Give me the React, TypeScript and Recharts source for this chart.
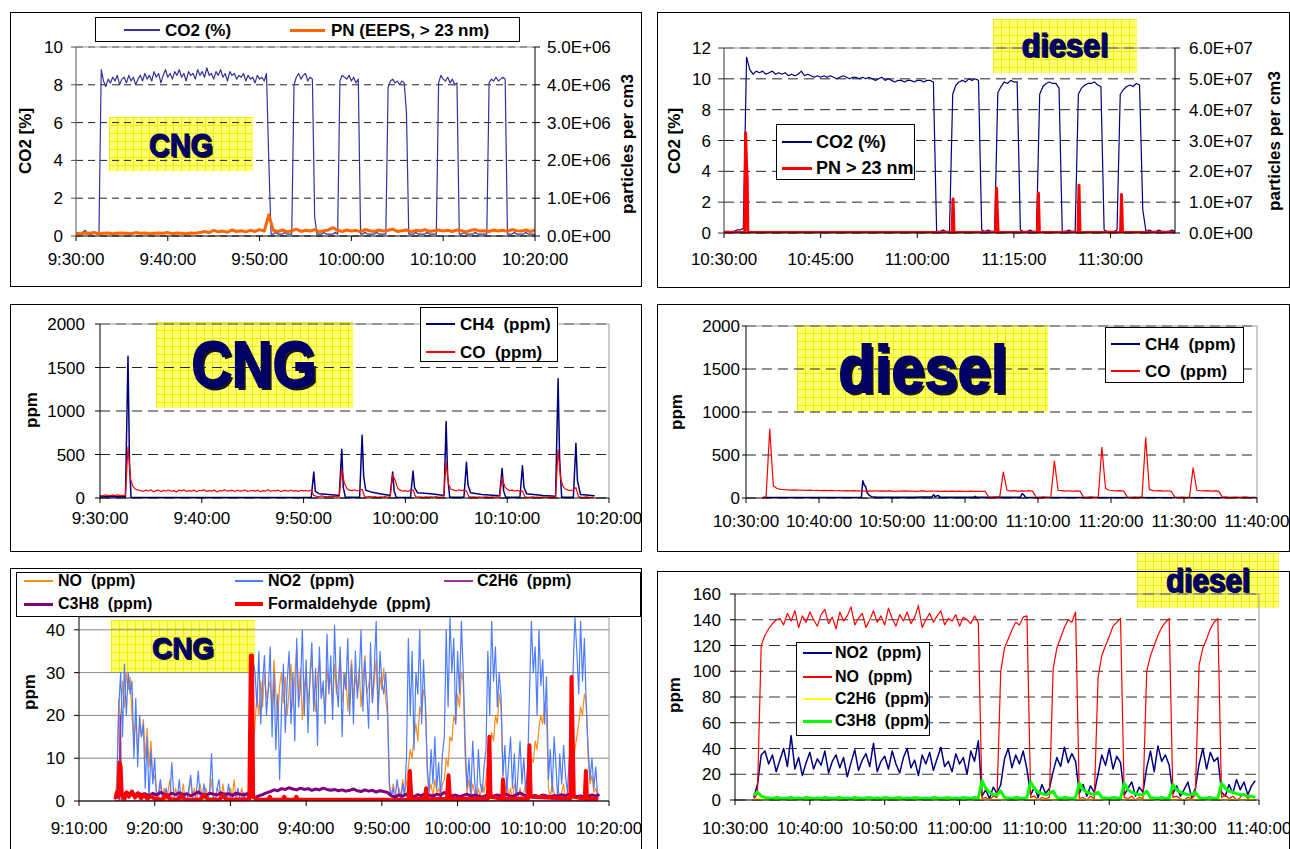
import React from "react";
import { LineChart, Line, XAxis, YAxis, CartesianGrid, ReferenceLine } from "recharts";

type Run = [number, number[]];
type Pt = { t: number; v: number };

const FONT = '"Liberation Sans", Arial, Helvetica, sans-serif';

// ---- axis ticks and labels (x in minutes from the first tick) ----
const cngMinutes = [0, 10, 20, 30, 40, 50];
const cngTimes = ["9:30:00", "9:40:00", "9:50:00", "10:00:00", "10:10:00", "10:20:00"];
const dieselMinutes15 = [0, 15, 30, 45, 60];
const dieselTimes15 = ["10:30:00", "10:45:00", "11:00:00", "11:15:00", "11:30:00"];
const dieselMinutes10 = [0, 10, 20, 30, 40, 50, 60, 70];
const dieselTimes10 = ["10:30:00", "10:40:00", "10:50:00", "11:00:00", "11:10:00", "11:20:00", "11:30:00", "11:40:00"];
const noxCngMinutes = [0, 10, 20, 30, 40, 50, 60, 70];
const noxCngTimes = ["9:10:00", "9:20:00", "9:30:00", "9:40:00", "9:50:00", "10:00:00", "10:10:00", "10:20:00"];

const co2CngTicks = [0, 2, 4, 6, 8, 10];
const pnCngTicks = [0, 1e6, 2e6, 3e6, 4e6, 5e6];
const pnCngTickLabels = ["0.0E+00", "1.0E+06", "2.0E+06", "3.0E+06", "4.0E+06", "5.0E+06"];
const co2DieselTicks = [0, 2, 4, 6, 8, 10, 12];
const pnDieselTicks = [0, 1e7, 2e7, 3e7, 4e7, 5e7, 6e7];
const pnDieselTickLabels = ["0.0E+00", "1.0E+07", "2.0E+07", "3.0E+07", "4.0E+07", "5.0E+07", "6.0E+07"];
const ppmTicks = [0, 500, 1000, 1500, 2000];
const noxCngTicks = [0, 10, 20, 30, 40];
const noxDieselTicks = [0, 20, 40, 60, 80, 100, 120, 140, 160];

// ---- CNG: CO2 (%) every 15 s, PN every 30 s ----
const co2CngRuns: Run[] = [
  [0, [0.1, 0.1, 0.1, 0.2, 0.3, 0.1, 0.1, 0.1, 0.2, 0.1, 0.1]],
  [2.75, [
    8.8, 8.2, 7.9, 8.3, 8.1, 8.4, 8.2, 8.5, 8.0, 8.3,
    8.4, 8.1, 8.5, 8.2, 8.4, 8.0, 8.3, 8.5, 8.2, 8.6,
    8.3, 8.5, 8.2, 8.7, 8.4, 8.6, 8.1, 8.5, 8.8, 8.4,
    8.6, 8.3, 8.7, 8.5, 8.8, 8.4, 8.6, 8.2, 8.7, 8.5,
    8.6, 8.3, 8.8, 8.5, 8.7, 8.4, 8.9, 8.5, 8.6, 8.3,
    8.7, 8.5, 8.8, 8.4, 8.6, 8.2, 8.7, 8.5, 8.6, 8.3,
    8.5, 8.4, 8.6, 8.2, 8.5, 8.3, 8.4, 8.1, 8.5, 8.3,
    8.4, 8.2, 8.6, 4.0]],
  [21.25, [0.1, 0.1, 0.2, 0.1, 0.1, 0.1, 0.2, 0.1, 0.1, 0.1]],
  [23.75, [8.0, 8.4, 8.6, 8.3, 8.5, 8.6, 8.2, 8.4, 8.3]],
  [26.0, [1.0, 0.1, 0.1, 0.1, 0.2, 0.1, 0.1, 0.1, 0.1, 0.2, 0.1]],
  [28.75, [8.2, 8.5, 8.4, 8.3, 8.5, 8.2, 8.4, 8.1, 8.3]],
  [31.0, [0.1, 0.1, 0.2, 0.1, 0.1, 0.1, 0.1, 0.2, 0.1, 0.1, 0.1, 0.1]],
  [34.0, [7.9, 8.2, 8.3, 8.1, 8.2, 8.0, 8.2, 8.1, 6.5]],
  [36.25, [0.1, 0.1, 0.1, 0.2, 0.1, 0.1, 0.1, 0.1, 0.2, 0.1, 0.1, 0.1, 0.1]],
  [39.5, [8.1, 8.5, 8.3, 8.2, 8.4, 8.1, 8.3, 8.0, 8.1]],
  [41.75, [0.1, 0.1, 0.2, 0.1, 0.1, 0.1, 0.1, 0.2, 0.1, 0.1, 0.1, 0.1, 0.1]],
  [45.0, [8.1, 8.3, 8.2, 8.4, 8.2, 8.3, 8.4, 8.3]],
  [47.0, [0.1, 0.1, 0.1, 0.2, 0.1, 0.1, 0.1, 0.1, 0.2, 0.1, 0.1, 0.1, 0.1]],
];
const pnCngRuns: Run[] = [
  [0, [7e4, 6e4, 8e4, 7e4, 9e4, 6e4, 7e4, 8e4, 6e4, 7e4, 8e4, 7e4, 6e4, 9e4, 7e4, 8e4, 6e4, 7e4, 8e4, 7e4, 9e4, 6e4, 8e4, 7e4, 6e4, 8e4, 7e4, 9e4]],
  [14, [1.2e5, 9e4, 1.5e5, 1.1e5, 1.3e5, 1e5, 1.6e5, 1.2e5, 1.4e5, 1.1e5, 1.5e5, 1.2e5, 1.7e5, 1.3e5]],
  [21, [5.6e5]],
  [21.5, [
    1.5e5, 1.2e5, 1.6e5, 1.1e5, 1.4e5, 1.8e5, 1.2e5, 1.5e5, 1.3e5, 1.7e5,
    1.1e5, 1.4e5, 1.6e5, 2.2e5, 1.5e5, 1.2e5, 1.6e5, 1.3e5, 1.5e5, 1.1e5,
    1.7e5, 1.4e5, 1.2e5, 1.6e5, 1.3e5, 1.5e5, 1.8e5, 1.2e5, 1.4e5, 1.6e5,
    1.1e5, 1.5e5, 1.3e5, 1.7e5, 1.2e5, 1.4e5, 1.6e5, 1.3e5, 1.5e5, 1.2e5,
    1.6e5, 1.4e5, 1.1e5, 1.5e5, 1.7e5, 1.3e5, 1.4e5, 1.2e5, 1.6e5, 1.3e5,
    1.5e5, 1.2e5, 1.7e5, 1.4e5, 1.3e5, 1.6e5, 1.2e5, 1.5e5]],
];

// ---- diesel: CO2 (%) every 30 s, PN as [minute, value] ----
const co2DieselRuns: Run[] = [
  [0, [0.1, 0.1, 0.1, 0.1, 0.2, 0.2, 0.3]],
  [3.5, [
    11.4, 10.6, 10.3, 10.5, 10.4, 10.5, 10.3, 10.4, 10.5, 10.3,
    10.4, 10.3, 10.4, 10.2, 10.3, 10.2, 10.3, 10.5, 10.2, 10.3,
    10.2, 10.1, 10.2, 10.1, 10.2, 10.1, 10.2, 10.1, 10.0, 10.1,
    10.2, 10.1, 10.0, 10.1, 10.1, 10.0, 10.1, 10.0, 10.1, 10.0,
    9.9, 10.0, 10.1, 9.9, 10.0, 9.9, 9.8, 9.9, 9.9, 9.8,
    9.9, 9.9, 9.8, 9.9, 9.9, 9.8, 9.9, 9.9, 9.8]],
  [33.0, [0.1, 0.1, 0.2, 0.1, 0.1]],
  [35.5, [9.0, 9.6, 9.8, 9.9, 9.8, 10.0, 9.9, 10.0, 9.9]],
  [40.0, [0.2, 0.1, 0.2, 0.1, 0.1]],
  [42.5, [9.1, 9.5, 9.8, 9.7, 9.9, 9.8, 9.8]],
  [46.0, [0.2, 0.1, 0.1, 0.2, 0.1, 0.1]],
  [49.0, [9.0, 9.5, 9.7, 9.8, 9.7, 9.7, 9.4]],
  [52.5, [0.1, 0.1, 0.2, 0.1, 0.1]],
  [55.0, [9.0, 9.4, 9.6, 9.7, 9.7, 9.8, 9.6, 9.5]],
  [59.0, [0.2, 0.1, 0.1, 0.1, 0.2]],
  [61.5, [9.0, 9.3, 9.5, 9.6, 9.5, 9.7, 9.6]],
  [65.0, [1.5, 0.1, 0.2, 0.1, 0.1, 0.2, 0.1, 0.1, 0.1, 0.2, 0.1]],
];
const pnDieselPts = [
  [0, 2e5], [3.2, 2e5], [3.35, 3.25e7], [3.5, 2.2e7], [3.6, 1.8e7], [3.7, 5e5], [3.85, 2e5],
  [35.4, 2e5], [35.55, 1.1e7], [35.7, 2e5], [42.15, 2e5], [42.3, 1.45e7], [42.4, 8e6], [42.55, 2e5],
  [48.65, 2e5], [48.8, 1.3e7], [48.95, 2e5], [54.95, 2e5], [55.1, 1.55e7], [55.25, 2e5],
  [61.55, 2e5], [61.7, 1.25e7], [61.85, 2e5], [70, 2e5],
];

// ---- CNG: CH4 and CO (ppm) ----
const ch4CngPts = [
  [0, 15], [2.5, 15], [2.75, 1630], [2.9, 400], [3.05, 10], [20.75, 5], [21.0, 300], [21.15, 80],
  [21.5, 50], [22.5, 40], [23.5, 30], [23.75, 560], [23.9, 120], [24.1, 10], [25.5, 10], [25.75, 720],
  [25.9, 250], [26.1, 90], [26.6, 70], [27.5, 50], [28.5, 30], [28.75, 300], [28.9, 80], [29.1, 5],
  [30.5, 5], [30.75, 310], [30.9, 120], [31.2, 60], [32.5, 50], [33.8, 30], [34.0, 880], [34.15, 250],
  [34.35, 10], [35.75, 10], [36.0, 410], [36.15, 150], [36.4, 60], [37.5, 40], [39.25, 25], [39.5, 340],
  [39.65, 80], [39.85, 10], [41.25, 10], [41.5, 370], [41.65, 120], [41.9, 50], [43.5, 30], [44.75, 20],
  [45.0, 1370], [45.15, 450], [45.35, 10], [46.5, 10], [46.75, 630], [46.9, 200], [47.2, 40], [48.6, 25],
];
const coCngRuns: Run[] = [
  [0, [30, 25, 35, 30, 28, 32, 30, 35, 28, 30, 32]],
  [2.75, [
    590, 220, 130, 100, 90,
    85, 75, 90, 80, 95, 70, 85, 90, 75, 88,
    80, 92, 78, 85, 70, 90, 82, 95, 75, 85,
    80, 90, 72, 88, 84, 93, 76, 85, 80, 90,
    70, 86, 82, 95, 78, 84, 88, 74, 90, 80,
    85, 92, 75, 83, 88, 79, 90, 72, 85, 80,
    94, 77, 86, 82, 90, 74, 85, 88, 78, 92,
    80, 84, 76, 89, 82, 86, 78, 90]],
  [21.0, [30, 20, 15, 25, 18, 12, 20, 15, 22, 14, 18]],
  [23.75, [330, 170, 110, 90, 85, 95, 80, 90, 100]],
  [26.0, [15, 12, 18, 10, 15, 8, 14, 10, 16, 9, 12]],
  [28.75, [270, 200, 110, 90, 80, 85, 75, 90, 95]],
  [31.0, [15, 10, 14, 8, 12, 9, 13, 10, 15, 8, 11, 12]],
  [34.0, [410, 150, 100, 90, 80, 95, 85, 90, 80]],
  [36.25, [15, 10, 12, 8, 14, 9, 11, 13, 8, 12, 10, 14, 9]],
  [39.5, [240, 130, 100, 85, 90, 80, 88, 75, 80]],
  [41.75, [12, 8, 10, 14, 9, 11, 7, 12, 10, 8, 13, 9, 11]],
  [45.0, [550, 220, 130, 100, 90, 85, 95, 120]],
  [47.0, [15, 10, 8, 12, 9, 7, 10]],
];

// ---- diesel: CH4 and CO (ppm) ----
const ch4DieselPts = [
  [2.5, 5], [15.8, 5], [16.0, 200], [16.2, 150], [16.4, 130], [16.6, 60], [16.9, 30], [17.2, 15],
  [18, 10], [23, 8], [25.5, 15], [25.7, 40], [25.9, 15], [26.3, 30], [26.6, 10], [31.2, 10],
  [31.4, 20], [31.6, 8], [37.6, 10], [37.8, 50], [38.0, 40], [38.3, 10], [42, 5], [70, 2],
];
const coDieselRuns: Run[] = [
  [2.25, [
    10, 10, 800, 140, 110,
    100, 97, 95, 92, 94, 90, 93, 88, 91, 87,
    90, 86, 89, 85, 88, 84, 87, 83, 86, 82,
    85, 83, 84, 80, 83, 81, 84, 79, 82, 80,
    83, 78, 81, 80, 82, 79, 81, 78, 80, 82,
    78, 80, 79, 81, 77, 80, 78, 79, 76, 80,
    78, 77, 79, 76, 78, 77, 78]],
  [33.25, [10, 8, 12, 10]],
  [35.25, [300, 90, 80, 85, 78, 82, 80, 85, 80]],
  [39.75, [10, 8, 12, 9, 10]],
  [42.25, [430, 90, 85, 80, 84, 78, 82, 80]],
  [46.25, [10, 9, 12, 8, 11]],
  [48.75, [590, 110, 90, 85, 82, 85, 80]],
  [52.25, [10, 8, 11, 9, 12]],
  [54.75, [700, 100, 85, 82, 86, 80, 84, 78]],
  [58.75, [10, 9, 11, 8, 10]],
  [61.25, [350, 90, 85, 82, 86, 80, 83, 80]],
  [65.25, [10, 12, 9, 11, 10, 8, 12, 10, 9, 10]],
];

// ---- CNG: NO, NO2, C2H6, C3H8, formaldehyde (ppm), from 9:10 ----
const no2CngRuns: Run[] = [
  [4.75, [0, 3]],
  [5.25, [22, 30, 15, 32, 20, 30, 25]],
  [7.0, [28, 10, 24, 8, 20, 15]],
  [8.5, [18, 3, 15, 0, 12, 4, 10]],
  [10.25, [
    0, 2, 5, 1, 0, 3, 1, 0, 9, 2, 0, 1, 5, 0, 2, 1, 0, 3, 6, 1,
    0, 2, 7, 1, 0, 4, 1, 0, 2, 11, 1, 0, 3, 5, 0, 1, 2, 0, 4, 1,
    0, 2, 1, 3, 0, 1, 2, 0, 1, 3]],
  [22.75, [5, 33]],
  [23.25, [
    30, 22, 35, 18, 28, 34, 20, 26,
    36, 15, 30, 12, 25, 5, 22, 32, 16, 28,
    35, 18, 30, 14, 38, 22, 27, 40, 20,
    33, 16, 29, 37, 21, 31, 13, 36, 24, 28, 18, 39,
    25, 34, 19, 41, 27, 22, 36, 15, 30, 26, 38, 20,
    32, 18, 35, 24, 29, 40, 21, 33, 26, 17,
    37, 23, 31, 42, 19, 35, 28, 25, 30, 22]],
  [41.0, [4, 1, 3, 0, 5, 2, 0, 4, 1]],
  [43.25, [10, 38, 20, 35, 12, 30, 25, 40, 18, 33, 22]],
  [46.0, [8, 2, 12, 4, 15, 3, 9, 1, 11]],
  [48.25, [15, 40, 22, 43, 30, 38, 18, 35, 25, 42, 30, 14]],
  [51.25, [3, 10, 1, 14, 5, 0, 12, 4, 2, 8]],
  [53.75, [12, 35, 20, 42, 28, 36, 22, 30, 24]],
  [56.0, [6, 13, 2, 9, 15, 3, 11, 0, 7, 14, 4, 10, 2, 8]],
  [59.5, [25, 42, 30, 36, 20, 40, 27, 33, 18, 29]],
  [62.0, [5, 12, 2, 15, 8, 0, 11, 4, 13, 6, 2, 10, 14]],
  [65.25, [30, 43, 35, 25, 42, 28, 38, 22]],
  [67.25, [12, 5, 10, 3, 8, 1]],
];
const noCngRuns: Run[] = [
  [4.75, [0, 5]],
  [5.25, [24, 18, 28, 22, 30, 26, 29]],
  [7.0, [20, 14, 19, 12, 18, 15]],
  [8.5, [19, 10, 17, 8, 14, 5, 6]],
  [10.25, [
    2, 0, 4, 1, 3, 0, 2, 5, 1, 0, 3, 1, 2, 0, 4, 1, 0, 2, 5, 1,
    3, 0, 2, 4, 1, 0, 3, 1, 2, 5, 0, 1, 3, 2, 0, 4, 1, 2, 0, 3,
    1, 5, 0, 2, 1, 3, 0, 2, 1, 4]],
  [22.75, [8, 12]],
  [23.25, [
    18, 25, 20, 28, 22, 30, 24, 26,
    28, 21, 33, 25, 19, 27, 30, 23, 29, 20,
    26, 32, 22, 29, 36, 24, 31, 19, 27,
    30, 23, 28, 34, 25, 21, 29, 33, 24, 27, 20, 31,
    26, 29, 22, 32, 25, 28, 35, 23, 27, 30, 21, 28,
    33, 24, 29, 26, 31, 22, 28, 34, 25, 27,
    30, 23, 28, 33, 21, 29, 26, 31, 24, 20]],
  [41.0, [3, 1, 4, 2, 0, 3, 1, 5, 2]],
  [43.25, [4, 8, 12, 10, 15, 18, 14, 22, 20, 26, 24]],
  [46.0, [6, 2, 4, 1, 5, 2, 3, 0, 4]],
  [48.25, [5, 10, 8, 15, 14, 20, 18, 25, 22, 30, 28, 10]],
  [51.25, [2, 5, 1, 4, 2, 0, 3, 1, 4, 2]],
  [53.75, [5, 9, 12, 16, 14, 20, 18, 25, 22]],
  [56.0, [4, 2, 5, 1, 3, 0, 4, 2, 1, 3, 0, 2, 4, 1]],
  [59.5, [6, 10, 9, 14, 12, 17, 20, 18, 23, 21]],
  [62.0, [3, 1, 4, 2, 0, 3, 1, 2, 4, 0, 2, 1, 3]],
  [65.25, [8, 12, 15, 18, 22, 20, 25, 23]],
  [67.25, [10, 4, 6, 2, 3, 1]],
];
const c2h6CngPts = [[4.8, 0], [5.3, 0], [5.45, 20], [5.6, 0], [68.6, 0]];
const c3h8CngRuns: Run[] = [
  [4.75, [
    1.5, 1.8, 1.2, 2.0, 1.6, 1.3, 1.9, 1.5, 1.7, 1.2, 1.8, 1.4, 2.0, 1.6, 1.3, 1.8, 1.5, 1.9,
    1.4, 1.7, 1.2, 1.6, 2.1, 1.5, 1.3, 1.8, 1.6, 1.4, 1.9, 1.5, 1.7, 1.3, 1.8, 1.6, 1.4, 1.7]],
  [22.75, [1.0, 0.8, 1.2, 1.5, 1.9]],
  [25.25, [2.2, 2.6, 2.4, 2.9, 2.7, 3.1, 2.8, 2.6, 3.0, 2.7, 2.9, 2.5, 2.8, 2.6, 3.0, 2.7]],
  [33.25, [2.5, 2.7, 2.4, 2.6, 2.3, 2.5, 2.8, 2.4, 2.2, 2.6, 2.3, 2.5, 2.1, 2.4, 2.2, 2.0]],
  [41.25, [
    1.2, 0.9, 1.4, 1.1, 1.6, 1.3, 1.0, 1.5, 1.2, 1.8, 1.4, 1.1, 1.6, 1.3, 2.0, 1.5, 1.2, 1.4, 1.0, 1.3,
    1.6, 1.1, 1.4, 1.2, 0.9, 1.3, 1.5, 1.1, 1.4, 1.2, 1.7, 1.3, 1.0, 1.5, 1.9, 1.4, 1.2, 1.1, 1.3, 1.0,
    1.4, 1.2, 0.9, 1.3, 1.1, 1.5, 1.2, 1.6, 1.3, 1.0, 1.2, 0.9, 1.1, 1.4, 1.2, 1.5]],
];
const hchoCngPts = [
  [4.8, 0.5], [5.0, 2], [5.2, 1], [5.35, 9], [5.5, 8], [5.65, 1.5], [6.0, 0.5], [6.3, 2], [6.6, 1],
  [7.0, 2.2], [7.4, 0.8], [7.8, 1.8], [8.2, 0.6], [8.6, 1.5], [9.0, 0.5], [9.5, 1.2], [10, 0.5],
  [11, 0.3], [11.5, 1.5], [12, 0.4], [13, 0.3], [13.5, 1.2], [14, 0.3], [16, 0.3], [16.5, 1.5],
  [17, 0.4], [18.5, 0.3], [19, 1.3], [19.5, 0.3], [22.5, 0.4], [22.7, 34], [22.85, 34], [23.0, 1],
  [23.5, 0.3], [25, 0.3], [25.2, 1], [25.4, 0.3], [26.9, 0.3], [27.1, 1], [27.3, 0.3], [28.5, 0.3],
  [28.7, 1], [28.9, 0.3], [40.8, 0.3], [41, 0.2], [43.5, 0.3], [43.7, 7], [43.9, 0.5], [45.7, 0.5],
  [45.85, 3], [46.0, 0.4], [48.6, 0.5], [48.8, 6], [49.0, 0.5], [54.0, 0.5], [54.2, 15], [54.35, 1],
  [55.9, 0.5], [56.0, 5], [56.15, 0.5], [59.3, 0.5], [59.5, 13], [59.65, 1], [64.9, 0.5], [65.05, 29],
  [65.2, 15], [65.35, 1], [66.8, 0.5], [66.95, 7], [67.1, 0.5], [68.6, 0.5],
];

// ---- diesel: NO2, NO, C2H6, C3H8 (ppm), every 30 s ----
const no2DieselRuns: Run[] = [
  [2.5, [2, 12, 35, 38]],
  [4.5, [
    28, 35, 22, 31, 40, 26, 50, 24, 33, 19,
    29, 37, 24, 32, 27, 38, 21, 30, 35, 25,
    33, 18, 29, 39, 23, 31, 36, 26, 44, 22,
    30, 34, 24, 38, 28, 21, 33, 40, 25, 31,
    19, 35, 28, 37, 23, 32, 41, 26, 30, 22,
    36, 28, 33, 20, 38, 30, 46]],
  [33.0, [3, 8, 1, 10, 5]],
  [35.5, [12, 32, 40, 25, 35, 28, 38, 24]],
  [39.5, [4, 10, 2, 12, 5, 9]],
  [42.5, [22, 33, 26, 41, 29, 36, 30]],
  [46.0, [5, 12, 3, 11, 6]],
  [48.5, [20, 35, 27, 40, 24, 34, 29]],
  [52.0, [4, 9, 14, 3, 10, 6]],
  [55.0, [25, 38, 22, 42, 30, 35, 27]],
  [58.5, [5, 11, 3, 8, 14, 2, 9]],
  [62.0, [28, 40, 24, 37, 30, 33]],
  [65.0, [6, 3, 12, 5, 16, 8, 14, 4, 11, 15]],
];
const noDieselRuns: Run[] = [
  [2.5, [0, 5, 120, 128, 133, 137, 140]],
  [6.0, [
    141, 136, 145, 139, 147, 134, 143, 138, 146, 140,
    135, 144, 148, 137, 142, 133, 146, 139, 143, 150,
    136, 141, 145, 134, 140, 147, 138, 143, 136, 149,
    141, 135, 144, 139, 146, 137, 142, 151, 134, 140,
    145, 138, 143, 147, 136, 141, 139, 144, 135, 142,
    140, 137, 143, 138]],
  [33.0, [1, 2, 0, 3, 2]],
  [35.5, [100, 118, 125, 132, 138, 136, 142, 143]],
  [39.5, [2, 3, 0, 2, 1, 2]],
  [42.5, [102, 118, 126, 134, 140, 138, 146]],
  [46.0, [1, 2, 0, 3, 1]],
  [48.5, [95, 112, 120, 127, 135, 138, 141]],
  [52.0, [2, 1, 3, 0, 2, 1]],
  [55.0, [100, 112, 120, 128, 134, 138, 141]],
  [58.5, [2, 3, 1, 0, 2, 1, 4]],
  [62.0, [105, 118, 125, 133, 138, 141]],
  [65.0, [2, 4, 1, 3, 0, 2, 5, 1, 3, 2]],
];
const c2h6DieselPts = [[2.5, 0], [3.0, 1.5], [3.5, 0.5], [69.5, 0.5]];
const c3h8DieselRuns: Run[] = [
  [2.5, [4, 6, 3]],
  [4.0, [
    2, 1.5, 1, 2, 1.5, 1, 1.5, 2, 1, 1.5, 1, 2, 1.5, 1, 1.5, 1, 2, 1.5, 1, 1.5,
    2, 1, 1.5, 1, 2, 1.5, 1, 1.5, 2, 1, 1.5, 1, 2, 1.5, 1, 1.5, 2, 1, 1.5, 1,
    2, 1.5, 1, 1.5, 1, 2, 1.5, 1, 1.5, 2, 1, 1.5, 1, 2, 1.5, 1, 2, 1.5]],
  [33.0, [15, 9, 6, 4, 4, 7, 2, 1.5, 1, 2, 1.5, 1, 2]],
  [39.5, [14, 9, 6, 5, 4, 5, 7, 2, 1, 2, 1.5, 1, 2]],
  [46.0, [13, 8, 6, 5, 4, 6, 2, 1.5, 1, 2, 1.5, 1]],
  [52.0, [13, 8, 6, 5, 4, 4, 7, 2, 1.5, 1, 2, 1, 1.5]],
  [58.5, [12, 8, 6, 5, 4, 4, 6, 2, 1, 1.5, 2, 1, 1.5]],
  [65.0, [13, 9, 7, 6, 5, 4, 4, 3, 3, 2]],
];

// ---- helpers ----
const fromRuns = (step: number, runs: Run[]): Pt[] =>
  runs.flatMap(([t0, vals]) => vals.map((v, i) => ({ t: t0 + i * step, v })));
const fromPairs = (pts: number[][]): Pt[] => pts.map(([t, v]) => ({ t, v }));
const labelFor = (ticks: number[], labels: string[]) => (v: number) => labels[ticks.indexOf(v)] ?? "";

const co2Cng = fromRuns(0.25, co2CngRuns);
const pnCng = fromRuns(0.5, pnCngRuns);
const co2Diesel = fromRuns(0.5, co2DieselRuns);
const pnDiesel = fromPairs(pnDieselPts);
const ch4Cng = fromPairs(ch4CngPts);
const coCng = fromRuns(0.25, coCngRuns);
const ch4Diesel = fromPairs(ch4DieselPts);
const coDiesel = fromRuns(0.5, coDieselRuns);
const no2Cng = fromRuns(0.25, no2CngRuns);
const noCng = fromRuns(0.25, noCngRuns);
const c2h6Cng = fromPairs(c2h6CngPts);
const c3h8Cng = fromRuns(0.5, c3h8CngRuns);
const hchoCng = fromPairs(hchoCngPts);
const no2Diesel = fromRuns(0.5, no2DieselRuns);
const noDiesel = fromRuns(0.5, noDieselRuns);
const c2h6Diesel = fromPairs(c2h6DieselPts);
const c3h8Diesel = fromRuns(0.5, c3h8DieselRuns);

const tickStyle = { fontSize: 17, fill: "#000", fontFamily: FONT };

const trace = (data: Pt[], color: string, width: number, axis: string | number = 0) => (
  <Line
    data={data}
    dataKey="v"
    yAxisId={axis}
    type="linear"
    stroke={color}
    strokeWidth={width}
    strokeLinejoin="round"
    dot={false}
    activeDot={false}
    isAnimationActive={false}
  />
);

function Frame({ x, y, w, h }: { x: number; y: number; w: number; h: number }) {
  return (
    <div style={{ position: "absolute", left: x, top: y, width: w, height: h, border: "1px solid #000", boxSizing: "border-box" }} />
  );
}

function Badge({ x, y, w, h }: { x: number; y: number; w: number; h: number }) {
  return (
    <div
      style={{
        position: "absolute", left: x, top: y, width: w, height: h,
        backgroundColor: "#FFFF70",
        backgroundImage: "linear-gradient(#EEEE00 1px, transparent 1px), linear-gradient(90deg, #EEEE00 1px, transparent 1px)",
        backgroundSize: "8px 8px",
      }}
    />
  );
}

function Stamp({ cx, cy, size, text, sx, shadow }: { cx: number; cy: number; size: number; text: string; sx: number; shadow: number }) {
  return (
    <div
      style={{
        position: "absolute", left: cx, top: cy, transform: `translate(-50%, -50%) scaleX(${sx})`,
        fontFamily: FONT, fontWeight: 700, fontSize: size, lineHeight: 1, color: "#000066",
        WebkitTextStroke: `${(size / 32).toFixed(2)}px #000066`,
        textShadow: `${shadow}px ${shadow}px 0 #1a1a1a`, whiteSpace: "nowrap",
      }}
    >
      {text}
    </div>
  );
}

function AxisTitle({ cx, cy, text }: { cx: number; cy: number; text: string }) {
  return (
    <div
      style={{
        position: "absolute", left: cx, top: cy, transform: "translate(-50%, -50%) rotate(-90deg)",
        fontFamily: FONT, fontWeight: 700, fontSize: 17, lineHeight: 1, whiteSpace: "nowrap",
      }}
    >
      {text}
    </div>
  );
}

function LegendBox({ x, y, w, h }: { x: number; y: number; w: number; h: number }) {
  return (
    <div style={{ position: "absolute", left: x, top: y, width: w, height: h, border: "1px solid #000", background: "#fff", boxSizing: "border-box" }} />
  );
}

function Key({ x1, x2, y, color, thick, tx, label, size }: {
  x1: number; x2: number; y: number; color: string; thick: number; tx: number; label: string; size: number;
}) {
  return (
    <>
      <div style={{ position: "absolute", left: x1, top: y - thick / 2, width: x2 - x1, height: thick, background: color }} />
      <div
        style={{
          position: "absolute", left: tx, top: y, transform: "translateY(-50%)",
          fontFamily: FONT, fontWeight: 700, fontSize: size, lineHeight: 1, whiteSpace: "pre",
        }}
      >
        {label}
      </div>
    </>
  );
}

function Place({ x, y, children }: { x: number; y: number; children: React.ReactNode }) {
  return <div style={{ position: "absolute", left: x, top: y }}>{children}</div>;
}

export default function App() {
  return (
    <div style={{ position: "absolute", left: 0, top: 0, width: 1290, height: 849, background: "#fff", overflow: "hidden", fontFamily: FONT }}>
      {/* yellow labels sit behind the plots */}
      <Badge x={109} y={117} w={144} h={54} />
      <Badge x={993} y={19} w={144} h={54} />
      <Badge x={156} y={322} w={197} h={86} />
      <Badge x={797} y={325} w={251} h={87} />
      <Badge x={111} y={620} w={144} h={53} />
      <Badge x={1137} y={553} w={142} h={55} />

      {/* CNG: CO2 and PN */}
      <Place x={10} y={12}>
        <LineChart width={632} height={275} margin={{ top: 35, right: 0, bottom: 0, left: 0 }}>
          <CartesianGrid vertical={false} stroke="#222" strokeDasharray="7 5" />
          <XAxis dataKey="t" type="number" domain={[0, 50]} ticks={cngMinutes} tickFormatter={labelFor(cngMinutes, cngTimes)}
            interval={0} height={51} tickSize={5} tickMargin={12} tick={tickStyle} stroke="#000" allowDataOverflow />
          <YAxis domain={[0, 10]} ticks={co2CngTicks} interval={0} width={66} tickSize={5} tickMargin={8}
            tick={tickStyle} stroke="#555" allowDataOverflow />
          <YAxis yAxisId="r" orientation="right" domain={[0, 5e6]} ticks={pnCngTicks} tickFormatter={labelFor(pnCngTicks, pnCngTickLabels)}
            interval={0} width={107} tickSize={5} tickMargin={7} tick={tickStyle} stroke="#000" allowDataOverflow />
          <ReferenceLine y={10} stroke="#999" />
          {trace(co2Cng, "#333399", 1.2)}
          {trace(pnCng, "#FF6600", 3, "r")}
        </LineChart>
      </Place>

      {/* diesel: CO2 and PN */}
      <Place x={657} y={12}>
        <LineChart width={632} height={276} margin={{ top: 36, right: 0, bottom: 0, left: 0 }}>
          <CartesianGrid vertical={false} stroke="#222" strokeDasharray="10 6" />
          <XAxis dataKey="t" type="number" domain={[0, 70]} ticks={dieselMinutes15} tickFormatter={labelFor(dieselMinutes15, dieselTimes15)}
            interval={0} height={55} tickSize={5} tickMargin={15} tick={tickStyle} stroke="#000" allowDataOverflow />
          <YAxis domain={[0, 12]} ticks={co2DieselTicks} interval={0} width={67} tickSize={6} tickMargin={7}
            tick={tickStyle} stroke="#333" allowDataOverflow />
          <YAxis yAxisId="r" orientation="right" domain={[0, 6e7]} ticks={pnDieselTicks} tickFormatter={labelFor(pnDieselTicks, pnDieselTickLabels)}
            interval={0} width={114} tickSize={5} tickMargin={9} tick={tickStyle} stroke="#000" allowDataOverflow />
          <ReferenceLine y={12} stroke="#999" />
          {trace(co2Diesel, "#000080", 1.2)}
          {trace(pnDiesel, "#FF0000", 3, "r")}
        </LineChart>
      </Place>

      {/* CNG: CH4 and CO */}
      <Place x={10} y={304}>
        <LineChart width={632} height={248} margin={{ top: 20, right: 33, bottom: 0, left: 0 }}>
          <CartesianGrid vertical={false} stroke="#222" strokeDasharray="10 6" />
          <XAxis dataKey="t" type="number" domain={[0, 50]} ticks={cngMinutes} tickFormatter={labelFor(cngMinutes, cngTimes)}
            interval={0} height={54} tickSize={5} tickMargin={9} tick={tickStyle} stroke="#000" allowDataOverflow />
          <YAxis domain={[0, 2000]} ticks={ppmTicks} interval={0} width={90} tickSize={5} tickMargin={10}
            tick={tickStyle} stroke="#000" allowDataOverflow />
          <ReferenceLine y={2000} stroke="#999" />
          <ReferenceLine x={50} stroke="#999" />
          {trace(ch4Cng, "#000080", 1.5)}
          {trace(coCng, "#FF0000", 1.2)}
        </LineChart>
      </Place>

      {/* diesel: CH4 and CO */}
      <Place x={657} y={304}>
        <LineChart width={633} height={248} margin={{ top: 22, right: 33, bottom: 0, left: 0 }}>
          <CartesianGrid vertical={false} stroke="#222" strokeDasharray="10 6" />
          <XAxis dataKey="t" type="number" domain={[0, 70]} ticks={dieselMinutes10} tickFormatter={labelFor(dieselMinutes10, dieselTimes10)}
            interval={0} height={54} tickSize={5} tickMargin={12} tick={tickStyle} stroke="#000" allowDataOverflow />
          <YAxis domain={[0, 2000]} ticks={ppmTicks} interval={0} width={89} tickSize={4} tickMargin={2}
            tick={tickStyle} stroke="#000" allowDataOverflow />
          <ReferenceLine y={2000} stroke="#999" />
          <ReferenceLine x={70} stroke="#999" />
          {trace(ch4Diesel, "#000080", 1.5)}
          {trace(coDiesel, "#FF0000", 1.2)}
        </LineChart>
      </Place>

      {/* CNG: NOx, hydrocarbons, formaldehyde */}
      <Place x={10} y={568}>
        <LineChart width={632} height={281} margin={{ top: 49, right: 33, bottom: 0, left: 0 }}>
          <CartesianGrid vertical={false} stroke="#888" />
          <XAxis dataKey="t" type="number" domain={[0, 70]} ticks={noxCngMinutes} tickFormatter={labelFor(noxCngMinutes, noxCngTimes)}
            interval={0} height={48} tickSize={5} tickMargin={16} tick={tickStyle} stroke="#000" allowDataOverflow />
          <YAxis domain={[0, 43]} ticks={noxCngTicks} interval={0} width={69} tickSize={5} tickMargin={9}
            tick={tickStyle} stroke="#000" allowDataOverflow />
          <ReferenceLine x={70} stroke="#999" />
          {trace(noCng, "#FF8C1A", 1.2)}
          {trace(no2Cng, "#4D7CFE", 1.2)}
          {trace(c2h6Cng, "#993399", 1.5)}
          {trace(c3h8Cng, "#800080", 3)}
          {trace(hchoCng, "#FF0000", 4)}
        </LineChart>
      </Place>

      {/* diesel: NOx and hydrocarbons */}
      <Place x={657} y={571}>
        <LineChart width={633} height={278} margin={{ top: 23, right: 31, bottom: 0, left: 0 }}>
          <CartesianGrid vertical={false} stroke="#333" strokeDasharray="11 6" />
          <XAxis dataKey="t" type="number" domain={[0, 70]} ticks={dieselMinutes10} tickFormatter={labelFor(dieselMinutes10, dieselTimes10)}
            interval={0} height={49} tickSize={5} tickMargin={17} tick={tickStyle} stroke="#000" allowDataOverflow />
          <YAxis domain={[0, 160]} ticks={noxDieselTicks} interval={0} width={78} tickSize={5} tickMargin={9}
            tick={tickStyle} stroke="#000" allowDataOverflow />
          <ReferenceLine y={160} stroke="#999" />
          <ReferenceLine x={70} stroke="#999" />
          {trace(no2Diesel, "#000080", 1.5)}
          {trace(noDiesel, "#FF0000", 1.2)}
          {trace(c2h6Diesel, "#FFFF00", 1.2)}
          {trace(c3h8Diesel, "#00FF00", 3)}
        </LineChart>
      </Place>

      {/* panel frames */}
      <Frame x={10} y={12} w={632} h={275} />
      <Frame x={657} y={12} w={633} h={276} />
      <Frame x={10} y={304} w={632} h={248} />
      <Frame x={657} y={304} w={633} h={248} />
      <Frame x={10} y={568} w={632} h={295} />
      <Frame x={657} y={571} w={633} h={292} />

      {/* fuel stamps */}
      <Stamp cx={181} cy={145} size={32} text="CNG" sx={0.9} shadow={1.5} />
      <Stamp cx={1065} cy={45} size={33} text="diesel" sx={0.93} shadow={1.5} />
      <Stamp cx={254} cy={365} size={64} text="CNG" sx={0.88} shadow={3} />
      <Stamp cx={923} cy={368} size={67} text="diesel" sx={0.89} shadow={3} />
      <Stamp cx={183} cy={648} size={30} text="CNG" sx={0.93} shadow={1.5} />
      <Stamp cx={1208} cy={580} size={33} text="diesel" sx={0.9} shadow={1.5} />

      {/* axis titles */}
      <AxisTitle cx={25} cy={141} text="CO2 [%]" />
      <AxisTitle cx={627} cy={144} text="particles per cm3" />
      <AxisTitle cx={674} cy={141} text="CO2 [%]" />
      <AxisTitle cx={1274} cy={141} text="particles per cm3" />
      <AxisTitle cx={31} cy={410} text="ppm" />
      <AxisTitle cx={676} cy={412} text="ppm" />
      <AxisTitle cx={29} cy={692} text="ppm" />
      <AxisTitle cx={674} cy={695} text="ppm" />

      {/* legends */}
      <LegendBox x={95} y={17} w={425} h={25} />
      <Key x1={124} x2={160} y={30} color="#333399" thick={1.5} tx={165} label="CO2 (%)" size={17} />
      <Key x1={290} x2={325} y={30} color="#FF6600" thick={3} tx={331} label="PN (EEPS, > 23 nm)" size={17} />

      <LegendBox x={776} y={124} w={139} h={56} />
      <Key x1={782} x2={812} y={142} color="#000080" thick={1.5} tx={816} label="CO2 (%)" size={18} />
      <Key x1={782} x2={812} y={168} color="#FF0000" thick={3} tx={816} label="PN > 23 nm" size={18} />

      <LegendBox x={420} y={307} w={138} h={55} />
      <Key x1={426} x2={455} y={324} color="#000080" thick={1.5} tx={460} label="CH4  (ppm)" size={17} />
      <Key x1={426} x2={455} y={352} color="#FF0000" thick={1.2} tx={460} label="CO  (ppm)" size={17} />

      <LegendBox x={1105} y={327} w={139} h={56} />
      <Key x1={1111} x2={1140} y={344} color="#000080" thick={1.5} tx={1145} label="CH4  (ppm)" size={17} />
      <Key x1={1111} x2={1140} y={371} color="#FF0000" thick={1.2} tx={1145} label="CO  (ppm)" size={17} />

      <LegendBox x={16} y={572} w={625} h={45} />
      <Key x1={24} x2={53} y={581} color="#FF8C1A" thick={1.5} tx={58} label="NO  (ppm)" size={16} />
      <Key x1={235} x2={263} y={581} color="#4D7CFE" thick={1.5} tx={268} label="NO2  (ppm)" size={16} />
      <Key x1={444} x2={473} y={581} color="#993399" thick={1.5} tx={477} label="C2H6  (ppm)" size={16} />
      <Key x1={24} x2={53} y={604} color="#800080" thick={3} tx={58} label="C3H8  (ppm)" size={16} />
      <Key x1={235} x2={263} y={604} color="#FF0000" thick={4} tx={268} label="Formaldehyde  (ppm)" size={16} />

      <LegendBox x={796} y={642} w={134} h={94} />
      <Key x1={803} x2={832} y={653} color="#000080" thick={1.5} tx={835} label="NO2  (ppm)" size={16} />
      <Key x1={803} x2={832} y={677} color="#FF0000" thick={1.2} tx={835} label="NO  (ppm)" size={16} />
      <Key x1={803} x2={832} y={699} color="#FFFF00" thick={1.2} tx={835} label="C2H6  (ppm)" size={16} />
      <Key x1={803} x2={832} y={721} color="#00FF00" thick={3} tx={835} label="C3H8  (ppm)" size={16} />
    </div>
  );
}
